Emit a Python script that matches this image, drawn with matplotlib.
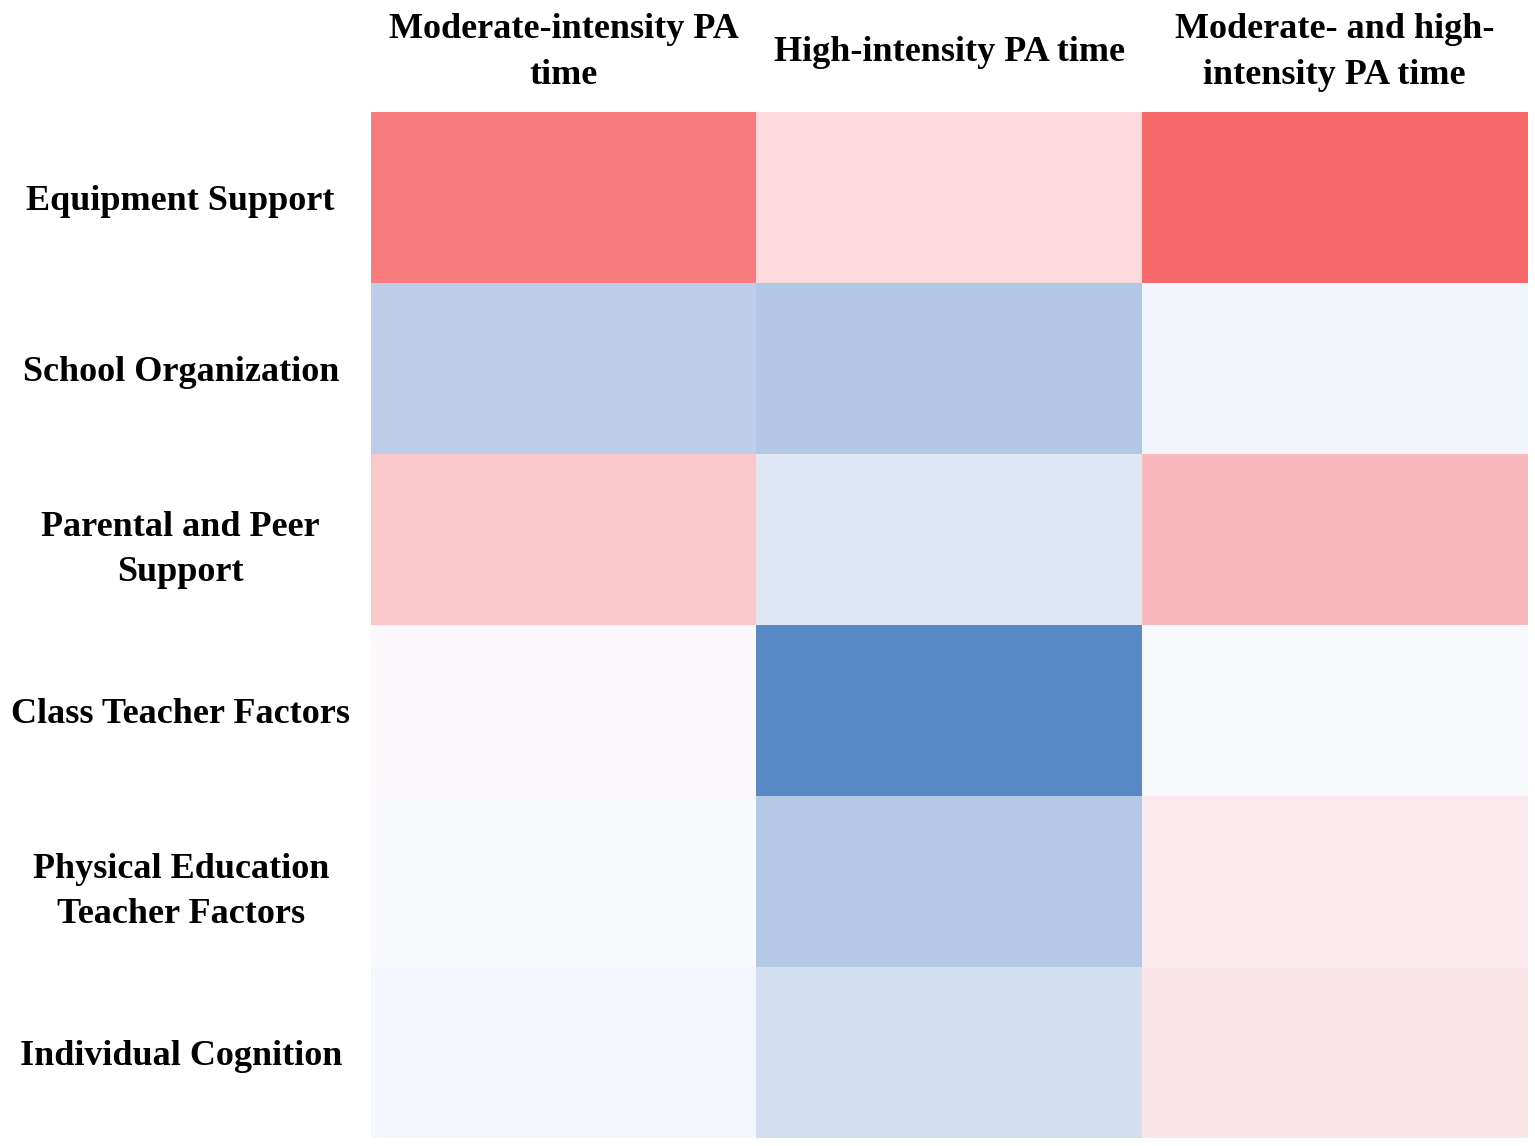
import matplotlib.pyplot as plt
from matplotlib.colors import LinearSegmentedColormap
import numpy as np

# row / column labels
rows = ['Equipment Support', 'School Organization', 'Parental and Peer\nSupport',
        'Class Teacher Factors', 'Physical Education\nTeacher Factors', 'Individual Cognition']
cols = ['Moderate-intensity PA\ntime', 'High-intensity PA time', 'Moderate- and high-\nintensity PA time']

# values (red = positive, blue = negative)
moderate = [0.87, -0.39, 0.35, 0.03, -0.02, -0.05]
high = [0.23, -0.45, -0.17, -1.0, -0.44, -0.25]
mod_high = [1.0, -0.06, 0.45, -0.02, 0.12, 0.15]


def main():
    data = np.array([moderate, high, mod_high]).T

    # excel-like 3 colour scale
    cmap = LinearSegmentedColormap.from_list('bwr_excel', ['#5A8AC6', '#FCFCFF', '#F8696B'])

    plt.rcParams['font.family'] = ['Liberation Serif', 'DejaVu Serif']
    plt.rcParams['font.weight'] = 'bold'

    fig = plt.figure(figsize=(15.35, 11.46), dpi=100)
    ax = fig.add_axes([371 / 1535, 1 - 1138 / 1146, (1527 - 371) / 1535, (1138 - 112) / 1146])
    ax.imshow(data, cmap=cmap, vmin=-1, vmax=1, aspect='auto', interpolation='nearest')

    ax.set_xticks(range(len(cols)))
    ax.set_xticklabels(cols, fontsize=26, fontweight='bold', linespacing=1.5, va='center')
    ax.set_yticks(range(len(rows)))
    ax.set_yticklabels(rows, fontsize=26, fontweight='bold', linespacing=1.5, ha='center')
    ax.xaxis.tick_top()
    ax.tick_params(axis='x', length=0, pad=43)
    ax.tick_params(axis='y', length=0, pad=137)
    for s in ax.spines.values():
        s.set_visible(False)

    fig.savefig('out.png', dpi=100)


if __name__ == '__main__':
    main()
